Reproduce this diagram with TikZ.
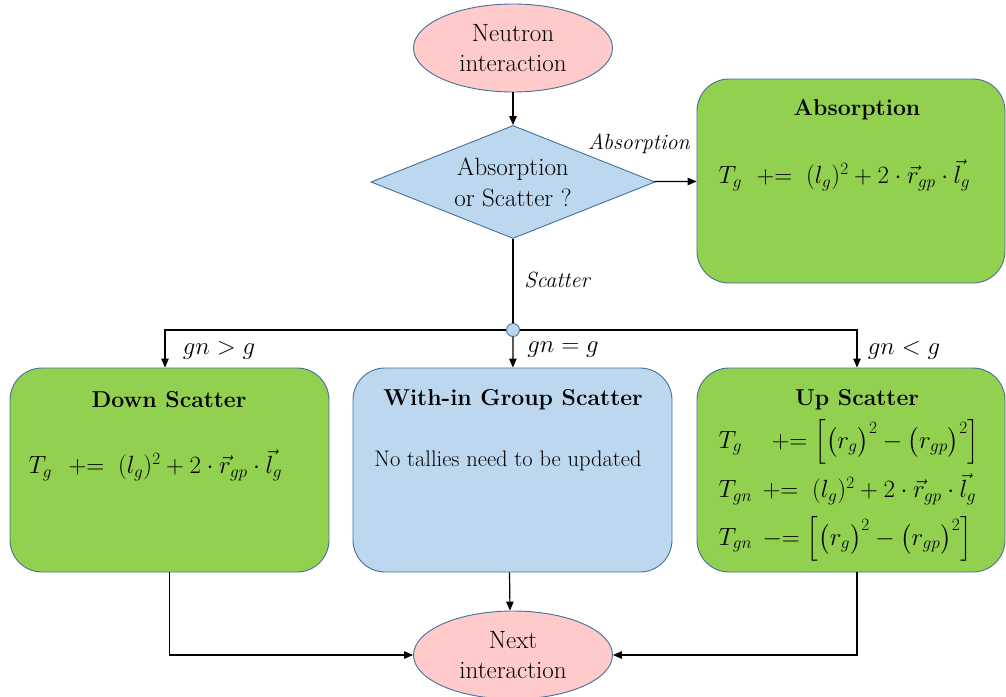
\documentclass[tikz,border=0pt]{standalone}
\usepackage{amsmath}
\usetikzlibrary{shapes.geometric,arrows.meta,positioning}
\definecolor{bgreen}{HTML}{92D050}
\definecolor{bblue}{HTML}{BDD7EE}
\definecolor{bpink}{HTML}{FFCACA}
\definecolor{bedge}{HTML}{41719C}
\begin{document}
\begin{tikzpicture}[x=1pt,y=-1pt,
  line width=1.2pt,
  ovalnode/.style={ellipse,draw=bedge,fill=bpink,line width=0.9pt,inner sep=0pt,align=center,
     minimum width=199,minimum height=88,font=\fontsize{25}{30}\selectfont},
  decide/.style={diamond,draw=bedge,fill=bblue,line width=0.9pt,inner sep=0pt,aspect=2.5,align=center,
     minimum width=284,minimum height=113,font=\fontsize{25}{31}\selectfont},
  gbox/.style={draw=bedge,fill=bgreen,rounded corners=32pt,line width=0.9pt,minimum width=#1,minimum height=204},
  bbox/.style={draw=bedge,fill=bblue,rounded corners=32pt,line width=0.9pt,minimum width=#1,minimum height=204},
  title/.style={font=\fontsize{23}{26}\selectfont\bfseries},
  eq/.style={font=\fontsize{23}{26}\selectfont,anchor=west,inner sep=0pt},
  lbl/.style={font=\fontsize{22}{24}\selectfont\itshape,inner sep=0pt},
  mlbl/.style={font=\fontsize{23}{26}\selectfont,inner sep=0pt},
  arr/.style={-{Triangle[length=9pt,width=7.5pt]}},
  junction/.style={circle,draw=bedge,fill=bblue,line width=0.9pt,minimum size=13,inner sep=0pt}]
\useasboundingbox (0,0) rectangle (1006,696);

\node[ovalnode] (start) at (513,48) {Neutron\\interaction};
\node[decide] (dia) at (513,182) {Absorption\\or Scatter ?};
\node[gbox=308] (abs) at (851,181) {};
\node[title] (abst) at (857,110) {Absorption};
\node[eq] (abse) at (718,175) {$\makebox[31pt][l]{$T_g$}\mathrel{+}= \;(l_g)^2+2\cdot\vec{r}_{gp}\cdot\vec{l}_g$};

\node[junction] (junc) at (513,330) {};

\node[gbox=319] (down) at (169.5,470) {};
\node[title] (downt) at (169,400) {Down Scatter};
\node[eq] (downe) at (28,465) {$\makebox[33pt][l]{$T_g$}\mathrel{+}= \;(l_g)^2+2\cdot\vec{r}_{gp}\cdot\vec{l}_g$};

\node[bbox=319] (within) at (512.5,470) {};
\node[title] (withint) at (513,400) {With-in Group Scatter};
\node[font=\fontsize{22.5}{26}\selectfont] (withine) at (508,461) {No tallies need to be updated};

\node[gbox=308] (up) at (851,470) {};
\node[title] (upt) at (857,400) {Up Scatter};
\node[eq] (upe1) at (718,442) {$\makebox[46pt][l]{$T_g$}\mathrel{+}= \Bigl[\bigl(r_g\bigr)^2-\bigl(r_{gp}\bigr)^2\Bigr]$};
\node[eq] (upe2) at (718,489) {$\makebox[37pt][l]{$T_{gn}$}\mathrel{+}= \;(l_g)^2+2\cdot\vec{r}_{gp}\cdot\vec{l}_g$};
\node[eq] (upe3) at (718,539) {$\makebox[37pt][l]{$T_{gn}$}\mathrel{-}= \Bigl[\bigl(r_g\bigr)^2-\bigl(r_{gp}\bigr)^2\Bigr]$};

\node[ovalnode] (next) at (513,655) {Next\\interaction};

\draw[arr] (start) -- (dia);
\draw[arr] (dia) -- (abs);
\node[lbl] (labs) at (639,144) {Absorption};
\draw (dia) -- (junc);
\node[lbl] (lsc) at (557,280) {Scatter};
\draw[arr] (junc) -| ([xshift=-4.5pt]down.north);
\draw[arr] (junc) -| ([xshift=6pt]up.north);
\draw[arr] (junc) -- (within);
\node[mlbl] (l1) at (219,350) {$gn > g$};
\node[mlbl] (l2) at (563,350) {$gn = g$};
\node[mlbl] (l3) at (904,350) {$gn < g$};
\draw[arr] (down.south) |- (next.west);
\draw[arr] ([xshift=6pt]up.south) |- (next.east);
\draw[arr] ([xshift=-3pt]within.south) -- ([xshift=-3pt]next.north);
\end{tikzpicture}
\end{document}
